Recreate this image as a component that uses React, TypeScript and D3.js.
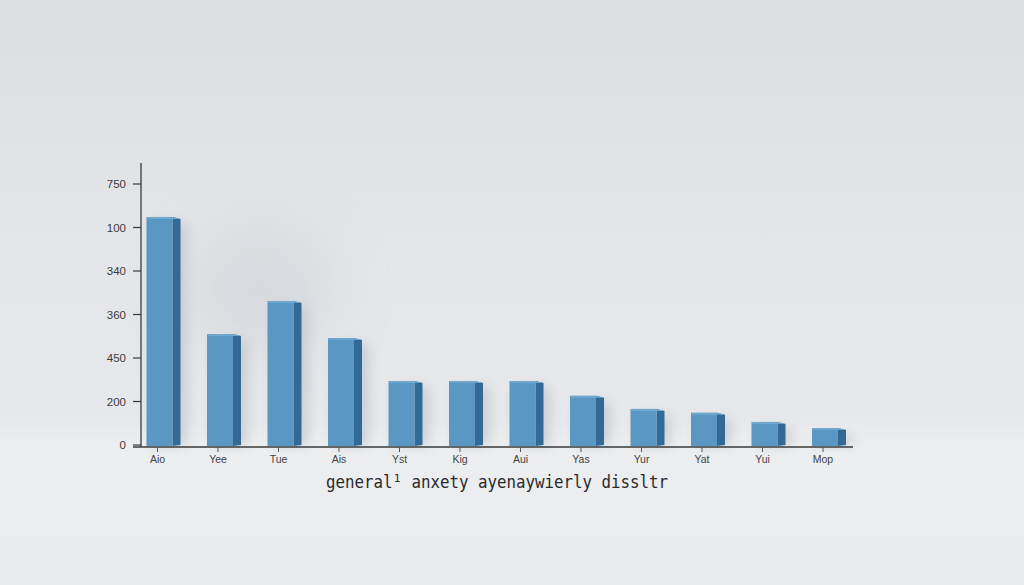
import * as d3 from 'd3';
import { useEffect, useRef } from 'react';

// categories along the x axis (as printed in the picture)
const categories = ['Aio', 'Yee', 'Tue', 'Ais', 'Yst', 'Kig', 'Aui', 'Yas', 'Yur', 'Yat', 'Yui', 'Mop'];
// bar heights, in tick steps (tick 0 = baseline)
const values = [5.24, 2.55, 3.31, 2.46, 1.47, 1.47, 1.47, 1.13, 0.83, 0.74, 0.53, 0.39];
// y tick labels, bottom to top, as printed
const yTickLabels = ['0', '200', '450', '360', '340', '100', '750'];
const title = 'general\u00b9 anxety ayenaywierly dissltr';

const W = 1024, H = 585;

const App = () => {
  const ref = useRef<SVGSVGElement>(null);

  useEffect(() => {
    const svg = d3.select(ref.current);
    svg.selectAll('*').remove();

    const defs = svg.append('defs');
    const bg = defs.append('linearGradient').attr('id', 'bg').attr('x1', 0).attr('y1', 0).attr('x2', 0).attr('y2', 1);
    bg.append('stop').attr('offset', '0%').attr('stop-color', '#dcdee2');
    bg.append('stop').attr('offset', '45%').attr('stop-color', '#e4e6e9');
    bg.append('stop').attr('offset', '72%').attr('stop-color', '#e6e8eb');
    bg.append('stop').attr('offset', '76%').attr('stop-color', '#eceef0');
    bg.append('stop').attr('offset', '100%').attr('stop-color', '#e9ebee');

    const blur = defs.append('filter').attr('id', 'soft').attr('x', '-50%').attr('y', '-50%').attr('width', '200%').attr('height', '200%');
    blur.append('feGaussianBlur').attr('stdDeviation', 6);

    const blurBig = defs.append('filter').attr('id', 'softBig').attr('x', '-50%').attr('y', '-50%').attr('width', '200%').attr('height', '200%');
    blurBig.append('feGaussianBlur').attr('stdDeviation', 30);

    svg.append('rect').attr('width', W).attr('height', H).attr('fill', 'url(#bg)');
    // soft haze behind the first bars
    svg.append('ellipse').attr('cx', 260).attr('cy', 290).attr('rx', 70).attr('ry', 60)
      .attr('fill', '#c9ccd1').attr('opacity', 0.5).attr('filter', 'url(#softBig)');

    const x = d3.scalePoint<string>().domain(categories).range([159.5, 825]);
    const y = d3.scaleLinear().domain([0, 6]).range([445, 184]);

    const frontW = 26, sideW = 8;
    const base = y(0) + 1;

    const g = svg.append('g');

    // shadows
    g.selectAll('.shadow')
      .data(values)
      .enter()
      .append('rect')
      .attr('x', (d, i) => (x(categories[i]) as number) - frontW / 2 + 6)
      .attr('y', (d) => y(d) + 6)
      .attr('width', frontW + sideW)
      .attr('height', (d) => base - y(d) - 6)
      .attr('fill', '#a9adb3')
      .attr('opacity', 0.45)
      .attr('filter', 'url(#soft)');

    const bars = g.selectAll('.bar')
      .data(values)
      .enter()
      .append('g')
      .attr('class', 'bar');

    // side face
    bars.append('polygon')
      .attr('points', (d, i) => {
        const x0 = (x(categories[i]) as number) + frontW / 2;
        const t = y(d);
        return [[x0, t], [x0 + sideW, t + 2], [x0 + sideW, base - 1], [x0, base]].map((p) => p.join(',')).join(' ');
      })
      .attr('fill', '#326a95');

    // front face
    bars.append('rect')
      .attr('x', (d, i) => (x(categories[i]) as number) - frontW / 2)
      .attr('y', (d) => y(d))
      .attr('width', frontW)
      .attr('height', (d) => base - y(d))
      .attr('fill', '#5b97c3');

    // top edge
    bars.append('polygon')
      .attr('points', (d, i) => {
        const x0 = (x(categories[i]) as number) - frontW / 2;
        const t = y(d);
        return [[x0, t], [x0 + frontW, t], [x0 + frontW + sideW, t + 2], [x0 + 1, t + 2]].map((p) => p.join(',')).join(' ');
      })
      .attr('fill', '#6fa7cf');

    // y axis
    const yAxis = g.append('g').attr('transform', 'translate(141,0)');
    yAxis.append('line').attr('x1', 0).attr('x2', 0).attr('y1', 163).attr('y2', y(0) + 2)
      .attr('stroke', '#3a3a3a').attr('stroke-width', 1.3);
    const yt = yAxis.selectAll('.yt')
      .data(yTickLabels)
      .enter()
      .append('g')
      .attr('transform', (d, i) => `translate(0,${y(i)})`);
    yt.append('line').attr('x1', -8).attr('x2', 0).attr('stroke', '#3a3a3a').attr('stroke-width', 1.2);
    yt.append('text')
      .attr('x', -15)
      .attr('dy', '0.35em')
      .attr('text-anchor', 'end')
      .style('font-family', '"Liberation Sans", Arial, sans-serif')
      .style('font-size', '11.5px')
      .attr('fill', '#3a3a3a')
      .text((d) => d);

    // x axis
    const xAxis = g.append('g').attr('transform', `translate(0,${y(0) + 2})`);
    xAxis.append('line').attr('x1', 133).attr('x2', 853).attr('stroke', '#3a3a3a').attr('stroke-width', 1.3);
    const xt = xAxis.selectAll('.xt')
      .data(categories)
      .enter()
      .append('g')
      .attr('transform', (d) => `translate(${(x(d) as number) - 2},0)`);
    xt.append('line').attr('y1', 0).attr('y2', 5).attr('stroke', '#555').attr('stroke-width', 1);
    xt.append('text')
      .attr('y', 16)
      .attr('text-anchor', 'middle')
      .style('font-family', '"Liberation Sans", Arial, sans-serif')
      .style('font-size', '10.5px')
      .attr('fill', '#444')
      .text((d) => d);

    svg.append('text')
      .attr('x', 326)
      .attr('y', 488)
      .attr('textLength', 342)
      .attr('lengthAdjust', 'spacingAndGlyphs')
      .style('font-family', '"DejaVu Sans Mono", monospace')
      .style('font-size', '18px')
      .attr('fill', '#2a2a2a')
      .text(title);
  }, []);

  return (
    <div style={{ position: 'fixed', left: 0, top: 0, width: W, height: H }}>
      <svg ref={ref} width={W} height={H} style={{ display: 'block' }} />
    </div>
  );
};

export default App;
